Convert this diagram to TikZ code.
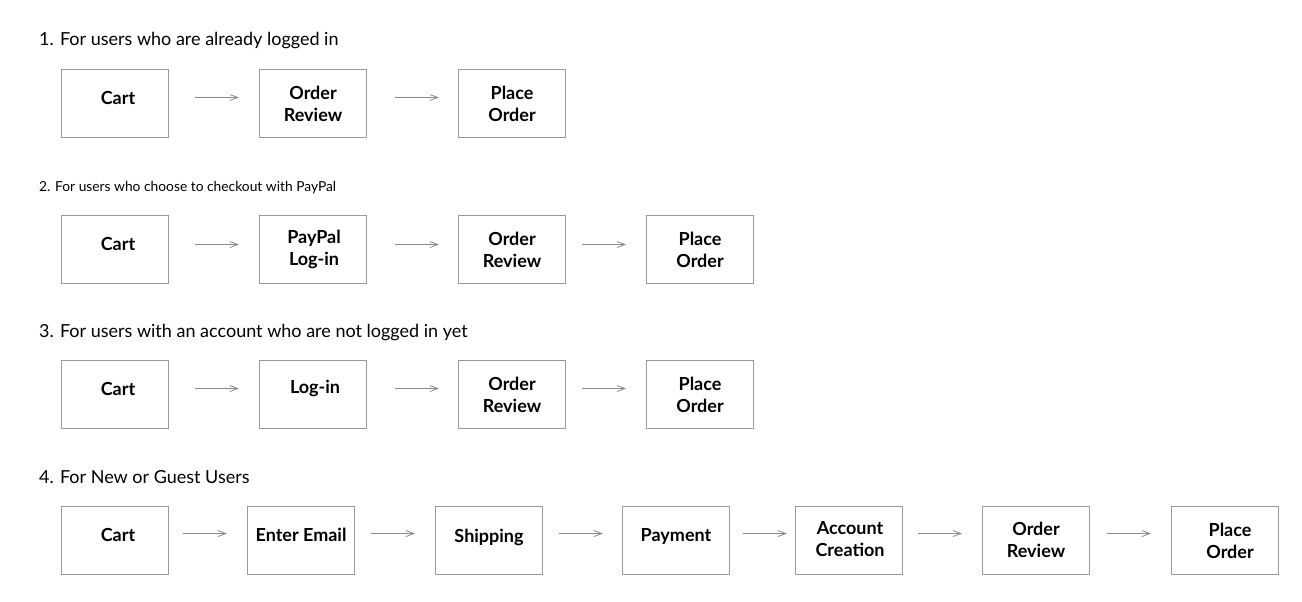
\documentclass[tikz,border=0pt]{standalone}
\usepackage{fontspec}
\setmainfont{Lato}
\usetikzlibrary{arrows.meta}
\definecolor{boxgray}{HTML}{9A9A9A}
\definecolor{arrgray}{HTML}{8A8A8A}
\tikzset{
  stepbox/.style={draw=boxgray, line width=1.1pt, minimum width=107pt, minimum height=68pt, anchor=north west, inner sep=0pt},
  boxtext/.style={font=\fontsize{18pt}{22pt}\selectfont\bfseries, align=center},
  flow/.style={draw=arrgray, line width=0.8pt, -{Straight Barb[length=8pt,width=6pt]}},
  heading/.style={anchor=west, font=\fontsize{18pt}{20pt}\selectfont, inner sep=0pt},
  smallheading/.style={anchor=west, font=\fontsize{13.8pt}{16pt}\selectfont, inner sep=0pt}
}
\begin{document}
\begin{tikzpicture}[x=1pt,y=-1pt]
\useasboundingbox[fill=white] (0,0) rectangle (1302,602);
% headings
\node[heading] (h1) at (39,40.5) {1. For users who are already logged in};
\node[smallheading] (h2) at (39,188) {2. For users who choose to checkout with PayPal};
\node[heading] (h3) at (39,332.5) {3. For users with an account who are not logged in yet};
\node[heading] (h4) at (39,477.5) {4. For New or Guest Users};
% row 1
\node[stepbox] (a1) at (61,69) {};
\node[boxtext] (ta1) at ([xshift=3pt,yshift=6pt]a1.center) {Cart};
\node[stepbox] (a2) at (259,69) {};
\node[boxtext] (ta2) at (a2.center) {Order\\Review};
\node[stepbox] (a3) at (458,69) {};
\node[boxtext] (ta3) at (a3.center) {Place\\Order};
% row 2
\node[stepbox] (b1) at (61,215) {};
\node[boxtext] (tb1) at ([xshift=3pt,yshift=6pt]b1.center) {Cart};
\node[stepbox] (b2) at (259,215) {};
\node[boxtext] (tb2) at ([xshift=1pt]b2.center) {PayPal\\Log-in};
\node[stepbox] (b3) at (458,215) {};
\node[boxtext] (tb3) at (b3.center) {Order\\Review};
\node[stepbox] (b4) at (646,215) {};
\node[boxtext] (tb4) at (b4.center) {Place\\Order};
% row 3
\node[stepbox] (c1) at (61,360) {};
\node[boxtext] (tc1) at ([xshift=3pt,yshift=6pt]c1.center) {Cart};
\node[stepbox] (c2) at (259,360) {};
\node[boxtext] (tc2) at ([xshift=2pt,yshift=6pt]c2.center) {Log-in};
\node[stepbox] (c3) at (458,360) {};
\node[boxtext] (tc3) at (c3.center) {Order\\Review};
\node[stepbox] (c4) at (646,360) {};
\node[boxtext] (tc4) at (c4.center) {Place\\Order};
% row 4
\node[stepbox] (d1) at (61,506) {};
\node[boxtext] (td1) at ([xshift=3pt,yshift=6pt]d1.center) {Cart};
\node[stepbox] (d2) at (247,506) {};
\node[boxtext] (td2) at ([yshift=6pt]d2.center) {Enter Email};
\node[stepbox] (d3) at (435,506) {};
\node[boxtext] (td3) at ([yshift=3pt]d3.center) {Shipping};
\node[stepbox] (d4) at (622,506) {};
\node[boxtext] (td4) at ([yshift=4pt]d4.center) {Payment};
\node[stepbox] (d5) at (795,506) {};
\node[boxtext] (td5) at ([xshift=1pt,yshift=1pt]d5.center) {Account\\Creation};
\node[stepbox] (d6) at (982,506) {};
\node[boxtext] (td6) at ([yshift=1pt]d6.center) {Order\\Review};
\node[stepbox] (d7) at (1171,506) {};
\node[boxtext] (td7) at ([xshift=5pt]d7.center) {Place\\Order};
% arrows
\draw[flow] ([xshift=26pt,yshift=6pt]a1.east) -- ([xshift=-20pt,yshift=6pt]a2.west);
\draw[flow] ([xshift=28pt,yshift=6pt]a2.east) -- ([xshift=-19pt,yshift=6pt]a3.west);
\draw[flow] ([xshift=26pt,yshift=5pt]b1.east) -- ([xshift=-20pt,yshift=5pt]b2.west);
\draw[flow] ([xshift=28pt,yshift=5pt]b2.east) -- ([xshift=-19pt,yshift=5pt]b3.west);
\draw[flow] ([xshift=16pt,yshift=5pt]b3.east) -- ([xshift=-20pt,yshift=5pt]b4.west);
\draw[flow] ([xshift=26pt,yshift=6pt]c1.east) -- ([xshift=-20pt,yshift=6pt]c2.west);
\draw[flow] ([xshift=28pt,yshift=6pt]c2.east) -- ([xshift=-19pt,yshift=6pt]c3.west);
\draw[flow] ([xshift=16pt,yshift=6pt]c3.east) -- ([xshift=-20pt,yshift=6pt]c4.west);
\draw[flow] ([xshift=14pt,yshift=7pt]d1.east) -- ([xshift=-20pt,yshift=7pt]d2.west);
\draw[flow] ([xshift=16pt,yshift=7pt]d2.east) -- ([xshift=-20pt,yshift=7pt]d3.west);
\draw[flow] ([xshift=16pt,yshift=7pt]d3.east) -- ([xshift=-19pt,yshift=7pt]d4.west);
\draw[flow] ([xshift=13pt,yshift=7pt]d4.east) -- ([xshift=-8pt,yshift=7pt]d5.west);
\draw[flow] ([xshift=15pt,yshift=7pt]d5.east) -- ([xshift=-20pt,yshift=7pt]d6.west);
\draw[flow] ([xshift=17pt,yshift=7pt]d6.east) -- ([xshift=-20pt,yshift=7pt]d7.west);
\end{tikzpicture}
\end{document}
